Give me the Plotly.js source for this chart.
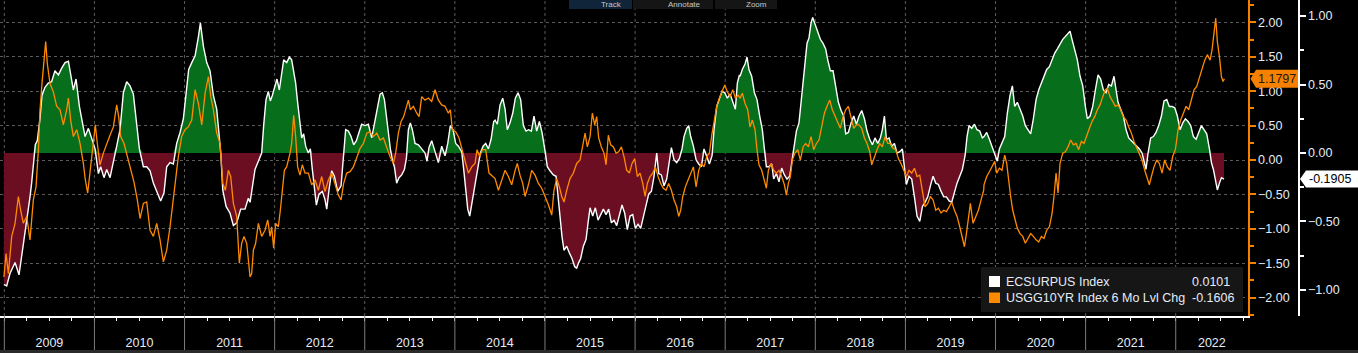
<!DOCTYPE html>
<html><head><meta charset="utf-8">
<script src="https://cdn.plot.ly/plotly-3.0.1.min.js"></script>
<style>html,body{margin:0;padding:0;background:#000;overflow:hidden}#chart{width:1358px;height:353px}</style>
</head><body><div id="chart"></div>
<script>
// ---- tick labels / year grid ----
const yearLabels = ['2009','2010','2011','2012','2013','2014','2015','2016','2017','2018','2019','2020','2021','2022'];
const yearLabelPos = [2009.5,2010.5,2011.5,2012.5,2013.5,2014.5,2015.5,2016.5,2017.5,2018.5,2019.5,2020.5,2021.5,2022.401];
const yearStarts = [2009,2010,2011,2012,2013,2014,2015,2016,2017,2018,2019,2020,2021,2022];

// ---- ECSURPUS Index (decimal year, value) ----
const ecsurpusT = [
2008.996,2009.026,2009.063,2009.119,2009.163,2009.193,2009.218,2009.248,2009.285,2009.303,
2009.322,2009.344,2009.366,2009.396,2009.418,2009.451,2009.488,2009.525,2009.562,2009.600,
2009.637,2009.674,2009.711,2009.729,2009.766,2009.796,2009.833,2009.859,2009.896,2009.933,
2009.970,2010.007,2010.044,2010.069,2010.106,2010.136,2010.173,2010.210,2010.247,2010.284,
2010.321,2010.358,2010.395,2010.432,2010.451,2010.469,2010.499,2010.543,2010.580,2010.617,
2010.654,2010.691,2010.735,2010.772,2010.802,2010.839,2010.876,2010.913,2010.950,2010.987,
2011.017,2011.046,2011.080,2011.117,2011.154,2011.176,2011.209,2011.246,2011.283,2011.320,
2011.357,2011.379,2011.402,2011.424,2011.461,2011.505,2011.542,2011.579,2011.623,2011.671,
2011.708,
2011.727,2011.752,2011.782,2011.819,2011.856,2011.878,2011.904,2011.930,2011.952,2011.974,
2012.004,2012.026,2012.052,2012.078,2012.100,2012.134,2012.163,2012.189,2012.211,2012.233,
2012.255,2012.278,2012.300,2012.322,2012.344,2012.374,2012.396,2012.418,2012.441,2012.463,
2012.492,2012.529,2012.559,2012.578,2012.603,2012.633,2012.663,2012.700,2012.737,2012.766,
2012.788,2012.818,2012.848,2012.877,2012.907,2012.936,2012.966,2013.003,2013.040,2013.077,
2013.114,2013.144,2013.170,2013.195,2013.218,2013.240,2013.262,2013.284,2013.306,2013.329,
2013.354,2013.380,2013.410,2013.440,2013.462,2013.484,2013.506,2013.528,2013.558,2013.595,
2013.632,2013.669,2013.691,2013.713,2013.743,2013.780,2013.817,2013.854,2013.891,2013.921,
2013.950,2013.980,2014.009,2014.039,2014.076,2014.098,2014.120,2014.143,2014.165,2014.194,
2014.224,2014.254,2014.283,2014.313,2014.342,2014.372,2014.402,2014.431,
2014.446,2014.471,2014.501,2014.531,2014.557,2014.582,2014.612,2014.642,2014.671,2014.701,
2014.730,2014.760,2014.790,2014.819,2014.849,2014.878,2014.908,2014.938,2014.967,2014.997,
2015.026,2015.056,2015.093,2015.123,2015.149,2015.167,2015.189,2015.211,2015.241,2015.271,
2015.300,2015.330,2015.352,2015.374,2015.396,2015.426,2015.456,2015.478,2015.500,2015.530,
2015.559,2015.589,2015.618,2015.648,2015.678,2015.707,2015.737,2015.766,2015.796,2015.826,
2015.855,2015.885,2015.914,2015.944,2015.974,2016.003,2016.033,2016.062,2016.092,2016.122,
2016.151,2016.181,2016.210,2016.240,2016.262,2016.292,2016.321,2016.351,2016.381,2016.403,
2016.432,2016.462,2016.492,2016.521,2016.543,2016.573,2016.595,2016.617,2016.647,2016.677,
2016.706,2016.736,2016.765,2016.795,2016.825,2016.854,2016.876,2016.906,2016.936,2016.965,
2016.995,2017.024,2017.054,2017.084,2017.113,2017.135,2017.158,
2017.165,2017.190,2017.220,2017.242,2017.264,2017.294,2017.324,2017.353,2017.383,2017.412,
2017.435,2017.457,2017.486,2017.516,2017.538,2017.568,2017.597,2017.627,2017.657,2017.686,
2017.716,2017.745,2017.768,2017.790,2017.819,2017.842,2017.864,2017.886,2017.908,2017.930,
2017.953,2017.971,2017.997,2018.027,2018.056,2018.086,2018.115,2018.138,2018.167,2018.197,
2018.226,2018.256,2018.286,2018.315,2018.337,2018.367,2018.397,2018.426,2018.456,2018.485,
2018.515,2018.545,2018.574,2018.604,2018.633,2018.663,2018.693,2018.722,2018.744,2018.767,
2018.789,2018.818,2018.848,2018.878,2018.907,2018.937,2018.966,2018.989,2019.011,2019.040,
2019.070,2019.100,2019.129,2019.159,2019.189,2019.218,2019.248,2019.277,2019.307,2019.337,
2019.366,2019.396,2019.425,2019.455,2019.485,2019.514,2019.544,2019.573,2019.603,2019.632,
2019.662,2019.684,2019.706,2019.736,2019.766,2019.795,2019.825,2019.854,
2019.872,2019.902,2019.932,2019.961,2019.991,2020.020,2020.043,2020.072,2020.102,2020.131,
2020.161,2020.187,2020.213,2020.242,2020.272,2020.302,2020.331,2020.361,2020.390,2020.420,
2020.450,2020.479,2020.509,2020.538,2020.568,2020.598,2020.627,2020.657,2020.686,2020.716,
2020.746,2020.775,2020.805,2020.827,2020.849,2020.879,2020.908,2020.938,2020.968,2020.997,
2021.019,2021.049,2021.079,2021.108,2021.138,2021.167,2021.197,2021.227,2021.256,2021.286,
2021.315,2021.338,2021.360,2021.389,2021.419,2021.449,2021.478,2021.508,2021.537,2021.567,
2021.597,2021.626,2021.648,2021.670,2021.693,2021.722,2021.752,2021.781,2021.811,2021.841,
2021.870,2021.900,2021.929,2021.959,2021.989,2022.018,2022.048,2022.078,2022.107,2022.137,
2022.166,2022.196,2022.226,2022.255,2022.285,2022.314,2022.344,2022.374,2022.396,2022.418,
2022.440,2022.462,2022.485,2022.507,2022.536
];
const ecsurpusV = [
-0.96,-0.97,-0.88,-0.80,-0.89,-0.75,-0.66,-0.51,-0.32,-0.22,
-0.07,0.06,0.09,0.25,0.42,0.48,0.51,0.52,0.60,0.57,
0.62,0.66,0.67,0.59,0.46,0.54,0.34,0.25,0.12,0.18,
0.10,0.03,-0.15,-0.10,-0.18,-0.12,-0.18,-0.05,0.05,0.17,
0.44,0.52,0.49,0.43,0.32,0.21,0.03,-0.10,-0.10,-0.13,
-0.22,-0.28,-0.35,-0.29,-0.10,-0.07,-0.08,0.07,0.15,0.25,
0.44,0.61,0.66,0.71,0.85,0.95,0.78,0.66,0.60,0.42,
0.32,0.17,0.00,-0.27,-0.39,-0.44,-0.53,-0.51,-0.41,-0.41,
-0.33,
-0.36,-0.24,-0.12,-0.06,0.00,0.20,0.39,0.45,0.38,0.42,
0.50,0.54,0.46,0.60,0.68,0.66,0.70,0.68,0.59,0.51,
0.37,0.22,0.11,0.14,0.05,0.00,0.03,-0.12,-0.27,-0.38,
-0.30,-0.28,-0.34,-0.41,-0.27,-0.13,-0.17,-0.28,-0.24,-0.02,
0.17,0.16,0.12,0.06,0.09,0.15,0.21,0.20,0.21,0.11,
0.25,0.34,0.43,0.44,0.39,0.27,0.12,0.03,-0.05,-0.10,
-0.22,-0.18,-0.16,-0.12,-0.04,0.17,0.22,0.17,0.07,0.06,
0.03,0.00,-0.06,0.04,0.09,0.00,-0.07,0.05,-0.02,0.07,
0.20,0.17,0.07,0.05,0.01,-0.12,-0.24,-0.41,-0.46,-0.34,
-0.22,-0.10,0.00,0.05,0.07,0.03,0.10,0.23,
0.24,0.21,0.35,0.40,0.32,0.17,0.22,0.29,0.40,0.44,
0.39,0.20,0.16,0.17,0.16,0.27,0.16,0.23,0.15,0.03,
-0.10,-0.13,-0.16,-0.17,-0.34,-0.51,-0.61,-0.71,-0.68,-0.73,
-0.77,-0.83,-0.84,-0.80,-0.77,-0.68,-0.63,-0.51,-0.40,-0.46,
-0.40,-0.49,-0.45,-0.41,-0.45,-0.41,-0.51,-0.49,-0.53,-0.46,
-0.38,-0.44,-0.56,-0.46,-0.45,-0.55,-0.52,-0.55,-0.46,-0.39,
-0.30,-0.28,-0.17,0.00,-0.15,-0.16,-0.24,-0.19,-0.05,0.04,
-0.05,-0.07,-0.04,0.03,0.12,0.18,0.20,0.12,0.05,-0.05,
-0.08,-0.10,0.03,-0.02,-0.08,-0.02,0.17,0.34,0.40,0.45,
0.44,0.40,0.43,0.37,0.32,0.51,0.57,
0.56,0.61,0.65,0.70,0.61,0.56,0.44,0.39,0.27,0.17,
0.03,-0.10,-0.10,-0.08,-0.19,-0.15,-0.21,-0.11,-0.16,-0.19,
-0.17,-0.05,0.07,0.16,0.22,0.37,0.51,0.66,0.80,0.84,
0.95,0.99,0.94,0.88,0.83,0.80,0.76,0.68,0.60,0.60,
0.49,0.37,0.31,0.27,0.14,0.15,0.22,0.27,0.21,0.27,
0.31,0.25,0.16,0.10,0.06,0.11,0.07,0.11,0.17,0.27,
0.10,0.11,0.05,0.07,0.00,0.01,0.03,-0.10,-0.23,-0.17,
-0.19,-0.32,-0.46,-0.50,-0.39,-0.36,-0.32,-0.24,-0.17,-0.22,
-0.23,-0.28,-0.32,-0.32,-0.35,-0.36,-0.28,-0.22,-0.17,-0.12,
-0.02,0.12,0.20,0.18,0.21,0.17,0.16,0.11,
0.12,0.15,0.10,0.05,0.00,-0.06,0.03,0.07,0.12,0.29,
0.42,0.49,0.34,0.37,0.32,0.27,0.20,0.17,0.14,0.25,
0.39,0.46,0.51,0.56,0.61,0.63,0.68,0.73,0.76,0.80,
0.83,0.85,0.87,0.89,0.83,0.76,0.68,0.56,0.49,0.34,
0.25,0.27,0.34,0.46,0.57,0.54,0.46,0.44,0.50,0.49,
0.56,0.46,0.37,0.32,0.27,0.17,0.11,0.09,0.07,0.05,
0.03,0.00,-0.07,-0.12,0.00,0.11,0.12,0.15,0.20,0.27,
0.38,0.39,0.34,0.34,0.33,0.27,0.17,0.22,0.25,0.23,
0.20,0.12,0.10,0.15,0.20,0.17,0.14,0.03,-0.07,-0.12,
-0.19,-0.27,-0.22,-0.18,-0.1905
];

// ---- USGG10YR Index 6 Mo Lvl Chg (decimal year, value) ----
const usgg10yrT = [
2008.996,2009.019,2009.045,2009.082,2009.119,2009.156,2009.181,2009.211,2009.248,2009.285,
2009.322,2009.352,2009.378,2009.396,2009.418,2009.437,2009.459,2009.477,2009.507,2009.544,
2009.581,2009.618,2009.655,2009.692,2009.711,2009.736,2009.766,2009.803,2009.840,2009.877,
2009.899,2009.925,2009.951,2009.981,2010.010,2010.032,2010.062,2010.099,2010.136,2010.173,
2010.210,2010.247,2010.269,2010.291,2010.328,2010.365,2010.402,2010.439,2010.476,2010.506,
2010.543,2010.580,2010.617,2010.654,2010.691,2010.728,2010.765,2010.802,2010.839,2010.868,
2010.898,2010.931,2010.968,2011.005,2011.042,2011.080,2011.117,2011.154,2011.191,2011.228,
2011.265,2011.291,2011.320,2011.357,2011.394,2011.424,2011.453,2011.486,2011.512,2011.542,
2011.579,2011.608,2011.634,2011.660,2011.690,2011.719,
2011.727,2011.745,2011.764,2011.789,2011.819,2011.856,2011.893,2011.923,2011.949,2011.967,
2011.989,2012.011,2012.041,2012.063,2012.085,2012.108,2012.133,2012.171,2012.189,2012.211,
2012.233,2012.255,2012.281,2012.307,2012.337,2012.374,2012.411,2012.448,2012.485,2012.522,
2012.559,2012.596,2012.633,2012.670,2012.707,2012.737,2012.766,2012.800,2012.837,2012.874,
2012.911,2012.948,2012.985,2013.022,2013.059,2013.096,2013.133,2013.170,2013.207,2013.243,
2013.280,2013.317,2013.343,2013.373,2013.403,2013.432,2013.462,2013.484,2013.506,2013.540,
2013.577,2013.603,2013.632,2013.669,2013.706,2013.743,2013.780,2013.817,2013.854,2013.891,
2013.928,2013.950,2013.972,2014.009,2014.046,2014.083,2014.120,2014.150,2014.187,2014.224,
2014.246,2014.276,2014.305,2014.342,2014.379,2014.417,
2014.446,2014.483,2014.520,2014.557,2014.594,2014.631,2014.668,2014.693,2014.723,2014.753,
2014.779,2014.816,2014.853,2014.890,2014.927,2014.964,2015.001,2015.038,2015.075,2015.100,
2015.130,2015.160,2015.186,2015.211,2015.241,2015.278,2015.315,2015.352,2015.389,2015.419,
2015.445,2015.470,2015.500,2015.526,2015.552,2015.574,2015.596,2015.626,2015.655,2015.678,
2015.703,2015.729,2015.759,2015.789,2015.818,2015.848,2015.877,2015.907,2015.937,2015.966,
2015.996,2016.025,2016.055,2016.085,2016.111,2016.136,2016.166,2016.196,2016.225,2016.255,
2016.284,2016.314,2016.344,2016.373,2016.403,2016.432,2016.462,2016.484,2016.506,2016.529,
2016.558,2016.588,2016.617,2016.647,2016.677,2016.706,2016.736,2016.765,2016.795,2016.825,
2016.851,2016.876,2016.906,2016.936,2016.965,2016.995,2017.024,2017.054,2017.084,2017.113,
2017.143,
2017.165,2017.190,2017.220,2017.250,2017.275,2017.301,2017.331,2017.353,2017.375,2017.405,
2017.435,2017.457,2017.479,2017.509,2017.538,2017.568,2017.597,2017.627,2017.657,2017.679,
2017.701,2017.723,2017.745,2017.775,2017.805,2017.834,2017.864,2017.893,2017.923,2017.953,
2017.982,2018.012,2018.041,2018.071,2018.101,2018.130,2018.160,2018.189,2018.219,2018.249,
2018.278,2018.308,2018.337,2018.367,2018.397,2018.426,2018.456,2018.485,2018.515,2018.545,
2018.574,2018.604,2018.626,2018.656,2018.685,2018.715,2018.744,2018.774,2018.804,2018.833,
2018.863,2018.892,2018.922,2018.951,2018.981,2019.011,2019.040,2019.070,2019.100,2019.129,
2019.159,2019.189,2019.218,2019.248,2019.277,2019.307,2019.337,2019.366,2019.396,2019.425,
2019.455,2019.485,2019.514,2019.544,2019.573,2019.603,2019.632,2019.655,2019.677,2019.699,
2019.721,2019.751,2019.781,2019.810,2019.840,2019.869,
2019.872,2019.902,2019.932,2019.961,2019.991,2020.013,2020.043,2020.072,2020.102,2020.124,
2020.146,2020.168,2020.191,2020.213,2020.242,2020.272,2020.302,2020.331,2020.361,2020.390,
2020.420,2020.450,2020.479,2020.509,2020.538,2020.568,2020.598,2020.627,2020.649,2020.672,
2020.694,2020.716,2020.746,2020.775,2020.805,2020.834,2020.864,2020.894,2020.923,2020.953,
2020.982,2021.012,2021.042,2021.071,2021.101,2021.130,2021.160,2021.190,2021.219,2021.241,
2021.271,2021.301,2021.330,2021.360,2021.389,2021.419,2021.449,2021.478,2021.508,2021.537,
2021.567,2021.597,2021.626,2021.656,2021.685,2021.707,2021.730,2021.759,2021.789,2021.818,
2021.848,2021.877,2021.907,2021.937,2021.966,2021.996,2022.026,2022.055,2022.085,2022.115,
2022.144,2022.174,2022.203,2022.233,2022.263,2022.292,2022.322,2022.351,2022.381,2022.403,
2022.425,2022.444,2022.462,2022.485,2022.507,2022.525,2022.540
];
const usgg10yrV = [
-1.70,-1.36,-1.65,-1.11,-0.92,-0.53,-0.73,-0.92,-0.82,-1.16,
-0.58,-0.39,0.15,0.73,1.11,1.45,1.72,1.40,1.11,0.99,
0.78,0.73,0.51,0.73,0.90,0.58,0.34,0.44,0.24,-0.05,
-0.29,-0.48,-0.19,0.15,0.51,0.24,-0.07,0.10,0.24,0.36,
0.48,0.80,0.63,0.34,0.24,0.05,-0.15,-0.32,-0.58,-0.85,
-0.63,-0.61,-1.02,-1.11,-0.92,-1.16,-1.48,-1.31,-0.97,-0.63,
-0.29,0.05,0.34,0.44,0.48,0.58,1.02,0.82,0.51,0.97,
1.21,0.92,0.73,0.39,0.24,-0.34,-0.44,-0.15,-0.24,-0.63,
-0.82,-1.50,-1.21,-1.11,-1.21,-1.65,
-1.70,-1.65,-1.31,-1.21,-0.92,-1.11,-1.02,-0.87,-1.11,-0.97,
-1.28,-0.92,-0.97,-0.73,-0.44,-0.15,-0.10,0.10,0.24,0.65,
0.34,-0.10,-0.22,-0.07,-0.19,-0.19,-0.36,-0.29,-0.44,-0.24,
-0.46,-0.29,-0.19,-0.34,-0.51,-0.58,-0.34,-0.19,-0.17,-0.10,
0.05,0.17,0.24,0.39,0.41,0.34,0.39,0.29,0.32,0.19,
0.05,-0.05,0.10,0.39,0.56,0.63,0.78,0.87,0.73,0.78,
0.68,0.63,0.92,0.87,0.90,0.85,1.02,0.87,0.80,0.78,
0.68,0.73,0.44,0.41,0.32,0.15,-0.02,-0.19,-0.10,-0.05,
0.15,0.05,0.15,0.15,-0.19,-0.24,
-0.27,-0.44,-0.29,-0.15,-0.24,-0.36,-0.15,-0.05,-0.22,-0.34,
-0.53,-0.36,-0.15,-0.22,-0.34,-0.41,-0.53,-0.65,-0.80,-0.44,
-0.27,-0.39,-0.53,-0.61,-0.44,-0.27,-0.19,-0.05,0.00,0.19,
0.39,0.19,0.34,0.68,0.51,0.63,0.32,0.19,0.10,-0.07,
0.36,0.22,0.19,0.10,0.12,0.19,0.05,-0.15,-0.19,-0.05,
0.02,-0.24,-0.19,-0.34,-0.53,-0.34,-0.24,-0.19,-0.10,-0.24,
-0.34,-0.41,-0.44,-0.34,-0.44,-0.58,-0.68,-0.82,-0.73,-0.53,
-0.39,-0.29,-0.19,-0.10,-0.39,-0.15,-0.05,-0.10,0.05,0.10,
0.36,0.58,0.78,0.90,0.99,1.09,0.99,0.92,1.02,0.90,
0.94,
0.90,0.97,0.82,0.73,0.48,0.58,0.44,0.15,-0.07,-0.15,
-0.29,-0.41,-0.15,-0.05,-0.15,-0.19,-0.15,-0.24,-0.36,-0.51,
-0.34,-0.24,0.00,0.10,0.15,0.00,0.19,0.24,0.19,0.34,
0.15,0.24,0.29,0.48,0.68,0.78,0.87,0.73,0.63,0.53,
0.46,0.63,0.73,0.78,0.63,0.46,0.51,0.51,0.46,0.32,
0.24,0.12,-0.07,0.05,0.15,0.24,0.19,0.34,0.24,0.24,
0.17,0.15,0.02,-0.05,-0.15,-0.24,-0.15,-0.19,-0.12,-0.24,
-0.22,-0.44,-0.68,-0.63,-0.53,-0.58,-0.73,-0.70,-0.77,-0.73,
-0.75,-0.68,-0.61,-0.73,-0.82,-0.97,-1.11,-1.26,-1.07,-0.82,
-0.63,-0.92,-0.82,-0.73,-0.58,-0.44,
-0.36,-0.24,-0.17,-0.10,-0.02,-0.19,-0.12,-0.15,0.07,-0.05,
-0.34,-0.53,-0.73,-0.85,-0.99,-1.07,-1.11,-1.21,-1.14,-1.07,
-1.11,-1.16,-1.19,-1.11,-1.14,-1.02,-0.97,-0.78,-0.53,-0.19,
-0.48,-0.05,0.10,0.12,0.19,0.29,0.22,0.24,0.15,0.27,
0.24,0.36,0.46,0.56,0.63,0.73,0.80,0.92,1.02,1.04,
0.92,0.85,0.78,0.80,0.73,0.63,0.58,0.48,0.39,0.27,
0.17,0.10,0.00,-0.15,-0.27,-0.36,-0.24,-0.10,0.00,-0.05,
-0.19,0.00,-0.10,-0.15,0.05,0.15,0.44,0.58,0.68,0.78,
0.73,0.87,1.02,1.07,1.21,1.31,1.45,1.53,1.45,1.60,
1.89,2.06,1.72,1.50,1.21,1.14,1.1797
];

// ---- labels shown on chart ----
const seriesNames = ['ECSURPUS Index', 'USGG10YR Index 6 Mo Lvl Chg'];
const legendValues = ['0.0101', '-0.1606'];
const lastValues = [-0.1905, 1.1797];
const toolbarLabels = ['Track', 'Annotate', 'Zoom'];

// ---- styling ----
const W = 1358, H = 353;
const plotR = 1248, paperW = 1308, plotB = 316;
const px = X => X / paperW;                 // pixel -> paper x
const py = Y => (plotB - Y) / plotB;        // pixel -> paper y
const ORANGE = '#ff8a00', AXOR = '#f68000', GREEN = '#076e1c', RED = '#6b0e22';
const TXT = '#e4ecf6', FONT = 'Liberation Sans, Arial, sans-serif';
const WHITE_PX = 137, ORANGE_PX = 68.85;

const pos = ecsurpusV.map(v => Math.max(v, 0));
const neg = ecsurpusV.map(v => Math.min(v, 0));

const traces = [
  {x: ecsurpusT, y: pos, type: 'scatter', mode: 'lines', fill: 'tozeroy', fillcolor: GREEN,
   line: {width: 0, color: GREEN}, xaxis: 'x', yaxis: 'y', hoverinfo: 'skip', showlegend: false},
  {x: ecsurpusT, y: neg, type: 'scatter', mode: 'lines', fill: 'tozeroy', fillcolor: RED,
   line: {width: 0, color: RED}, xaxis: 'x', yaxis: 'y', hoverinfo: 'skip', showlegend: false},
  {x: ecsurpusT, y: ecsurpusV, type: 'scatter', mode: 'lines', name: seriesNames[0],
   line: {width: 1.4, color: '#ffffff'}, xaxis: 'x', yaxis: 'y', showlegend: false},
  {x: usgg10yrT, y: usgg10yrV, type: 'scatter', mode: 'lines', name: seriesNames[1],
   line: {width: 1.3, color: ORANGE}, xaxis: 'x', yaxis: 'y2', showlegend: false}
];

const shapes = [];
// year separators and dotted vertical grid
yearStarts.forEach(t => {
  shapes.push({type: 'line', xref: 'x', yref: 'paper', x0: t, x1: t, y0: 0, y1: 1,
    line: {color: '#5a5a5a', width: 1, dash: 'dot'}, layer: 'below'});
  shapes.push({type: 'line', xref: 'x', yref: 'paper', x0: t, x1: t, y0: py(350), y1: 0,
    line: {color: '#7c7c7c', width: 1}, layer: 'above'});
});
// bottom strip
shapes.push({type: 'rect', xref: 'paper', yref: 'paper', x0: 0, x1: W / paperW, y0: py(353), y1: py(350),
  fillcolor: '#2a2a2a', line: {width: 0}, layer: 'above'});
// toolbar
[[569, 632, '#10243a'], [633, 713, '#151515'], [715, 777, '#151515']].forEach(b => {
  shapes.push({type: 'rect', xref: 'paper', yref: 'paper', x0: px(b[0]), x1: px(b[1]), y0: py(9), y1: 1.02,
    fillcolor: b[2], line: {width: 0}, layer: 'above'});
});
// legend box
shapes.push({type: 'rect', xref: 'paper', yref: 'paper', x0: px(981), x1: px(1243), y0: py(312), y1: py(267),
  fillcolor: '#161616', line: {width: 0}, layer: 'above'});
shapes.push({type: 'rect', xref: 'paper', yref: 'paper', x0: px(989), x1: px(1000), y0: py(287), y1: py(276),
  fillcolor: '#ffffff', line: {width: 0}, layer: 'above'});
shapes.push({type: 'rect', xref: 'paper', yref: 'paper', x0: px(989), x1: px(1000), y0: py(303), y1: py(292.5),
  fillcolor: ORANGE, line: {width: 0}, layer: 'above'});
// last-value tags
function tag(yv, scale, xTip, xL, xR, halfPx, color, yref) {
  const h = halfPx / scale;
  return {type: 'path', xref: 'paper', yref: yref, layer: 'above', fillcolor: color, line: {width: 0},
    path: `M ${px(xTip)},${yv} L ${px(xL)},${yv + h} L ${px(xR)},${yv + h} L ${px(xR)},${yv - h} L ${px(xL)},${yv - h} Z`};
}
shapes.push(tag(lastValues[1], ORANGE_PX, 1250.5, 1256, 1298, 9, AXOR, 'y2'));
shapes.push(tag(lastValues[0], WHITE_PX, 1300, 1306, 1360, 8.5, '#ffffff', 'y'));

const af = (size, color) => ({family: FONT, size: size, color: color});
const annotations = [
  {xref: 'paper', yref: 'paper', x: px(1004), y: py(281.5), xanchor: 'left', yanchor: 'middle', showarrow: false,
   text: seriesNames[0], font: af(12.5, TXT)},
  {xref: 'paper', yref: 'paper', x: px(1004), y: py(297.7), xanchor: 'left', yanchor: 'middle', showarrow: false,
   text: seriesNames[1], font: af(12.5, TXT)},
  {xref: 'paper', yref: 'paper', x: px(1190), y: py(281.5), xanchor: 'left', yanchor: 'middle', showarrow: false,
   text: legendValues[0], font: af(12.5, TXT)},
  {xref: 'paper', yref: 'paper', x: px(1190), y: py(297.7), xanchor: 'left', yanchor: 'middle', showarrow: false,
   text: legendValues[1], font: af(12.5, TXT)},
  {xref: 'paper', yref: 'y2', x: px(1277), y: lastValues[1], xanchor: 'center', yanchor: 'middle', showarrow: false,
   text: lastValues[1].toFixed(4), font: af(12.5, '#1a1a1a')},
  {xref: 'paper', yref: 'y', x: px(1330), y: lastValues[0], xanchor: 'center', yanchor: 'middle', showarrow: false,
   text: lastValues[0].toFixed(4), font: af(12.5, '#000000')}
];
[611, 685, 756].forEach((cx, i) => {
  annotations.push({xref: 'paper', yref: 'paper', x: px(cx), y: py(4.6), xanchor: 'center', yanchor: 'middle',
    showarrow: false, text: toolbarLabels[i], font: af(8, '#c8c8c8'), borderpad: 0});
});

const layout = {
  width: W, height: H, autosize: false,
  margin: {l: 0, r: W - paperW, t: 0, b: H - plotB, pad: 0},
  paper_bgcolor: '#000000', plot_bgcolor: '#000000',
  font: {family: FONT, size: 12.5, color: TXT},
  showlegend: false,
  xaxis: {
    domain: [0, plotR / paperW], anchor: 'y', range: [2008.952, 2022.802],
    tickmode: 'array', tickvals: yearLabelPos, ticktext: yearLabels, ticks: '',
    ticklabelstandoff: 14,
    minor: {tick0: 2009, dtick: 0.25, ticks: 'outside', ticklen: 3, tickcolor: '#ffffff', tickwidth: 1, showgrid: false},
    showgrid: false, zeroline: false, showline: true, linecolor: '#ffffff', linewidth: 1.5,
    tickfont: af(12.5, TXT), fixedrange: true
  },
  yaxis: {
    range: [-1.190, 1.117], side: 'right', anchor: 'free', position: 1298 / paperW,
    tickmode: 'linear', tick0: 0, dtick: 0.5, tickformat: '.2f',
    ticks: 'outside', ticklen: 6, tickwidth: 2, tickcolor: '#ffffff',
    minor: {dtick: 0.25, ticks: 'outside', ticklen: 4, tickcolor: '#ffffff', showgrid: false},
    showline: true, linecolor: '#ffffff', linewidth: 1.5,
    showgrid: false, zeroline: false, tickfont: af(12.5, TXT), fixedrange: true
  },
  yaxis2: {
    overlaying: 'y', anchor: 'x', side: 'right', range: [-2.266, 2.324],
    tickmode: 'linear', tick0: 0, dtick: 0.5, tickformat: '.2f',
    ticks: 'outside', ticklen: 6, tickwidth: 2, tickcolor: AXOR,
    minor: {dtick: 0.25, ticks: 'outside', ticklen: 4, tickcolor: AXOR, showgrid: false},
    showline: true, linecolor: AXOR, linewidth: 1.5,
    showgrid: true, gridcolor: '#5a5a5a', gridwidth: 1, griddash: 'dot',
    zeroline: false, tickfont: af(12.5, TXT), fixedrange: true
  },
  shapes: shapes,
  annotations: annotations
};

Plotly.newPlot('chart', traces, layout, {staticPlot: true, displayModeBar: false});
</script>
</body></html>
